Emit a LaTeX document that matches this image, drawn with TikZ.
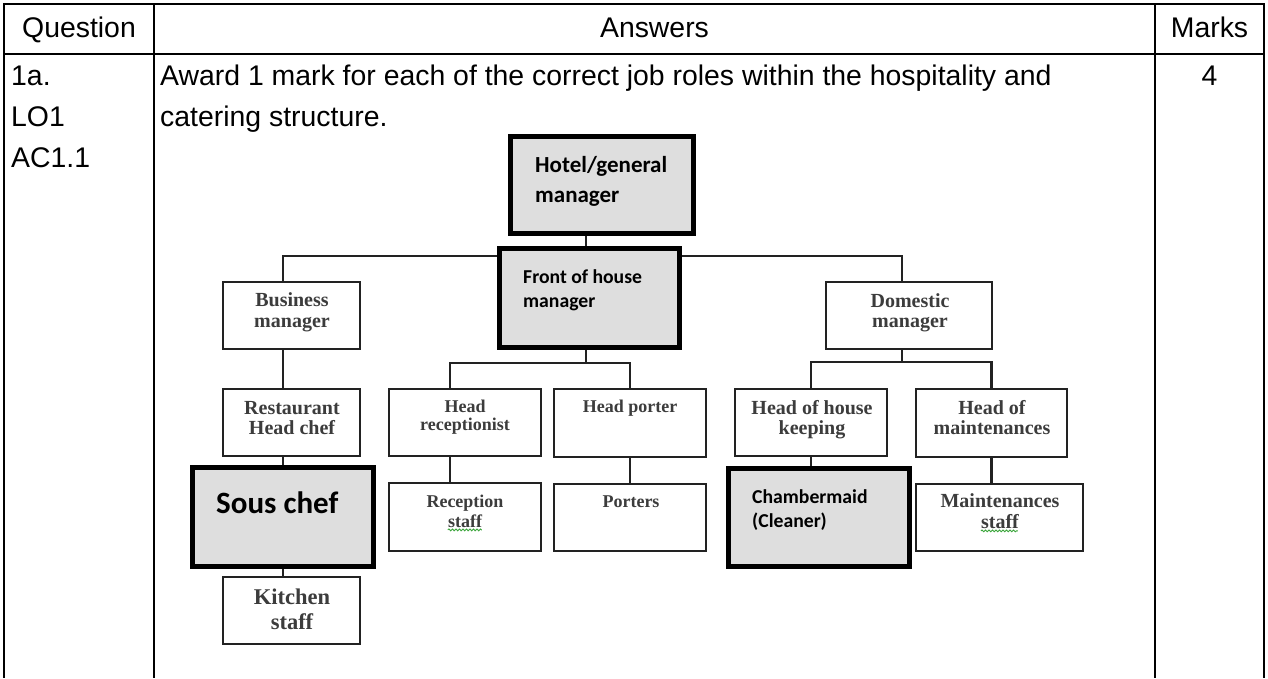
\documentclass[tikz,border=0pt]{standalone}
\usepackage{fontspec}
\setmainfont{Liberation Sans}
\newfontfamily\calfont{Carlito}
\newfontfamily\sfont{Liberation Serif}
\usetikzlibrary{decorations.pathmorphing}
\pgfdeclarelayer{bg}
\pgfsetlayers{bg,main}
\definecolor{boxgray}{HTML}{DEDEDE}
\definecolor{txtgray}{HTML}{3C3C3C}
\definecolor{linegray}{HTML}{222222}
\definecolor{squig}{HTML}{3BA53B}
\tikzset{
  rule/.style={line width=1.6pt, black},
  tbl/.style={font=\fontsize{28.4}{34}\selectfont, inner sep=0pt, anchor=base west},
  tblc/.style={font=\fontsize{28.4}{34}\selectfont, inner sep=0pt, anchor=base},
  plainbox/.style={draw=linegray, line width=2.8pt, fill=white, rectangle, inner sep=0pt},
  keybox/.style={draw=black, line width=5pt, fill=boxgray, rectangle, inner sep=0pt},
  conn/.style={draw=linegray, line width=2.8pt},
  ser/.style={font=\sfont\bfseries\fontsize{20}{24}\selectfont, text=txtgray, inner sep=0pt, anchor=base},
  sers/.style={font=\sfont\bfseries\fontsize{18}{22}\selectfont, text=txtgray, inner sep=0pt, anchor=base},
  serk/.style={font=\sfont\bfseries\fontsize{22.5}{27}\selectfont, text=txtgray, inner sep=0pt, anchor=base},
  cal/.style={font=\calfont\bfseries\fontsize{19.7}{24}\selectfont, inner sep=0pt, anchor=base west},
  squiggle/.style={draw=squig, line width=0.9pt, decorate, decoration={snake, amplitude=0.9pt, segment length=3.5pt}}
}
\begin{document}
\begin{tikzpicture}[x=1pt,y=-1pt]
\useasboundingbox (0,0) rectangle (1268,678);
% ---- table
\draw[rule] (3.2,4) -- (1264.8,4);
\draw[rule] (4,54) -- (1264,54);
\draw[rule] (4,4) -- (4,678);
\draw[rule] (154,4) -- (154,678);
\draw[rule] (1155,4) -- (1155,678);
\draw[rule] (1264,4) -- (1264,678);
\node[tblc] (hq) at (79,37) {Question};
\node[tblc] (ha) at (654.5,37) {Answers};
\node[tblc] (hm) at (1209.5,37) {Marks};
\node[tbl] (q1) at (11,85) {1a.};
\node[tbl] (q2) at (11,126) {LO1};
\node[tbl] (q3) at (11,167) {AC1.1};
\node[tbl] (a1) at (160,85) {Award 1 mark for each of the correct job roles within the hospitality and};
\node[tbl] (a2) at (160,126) {catering structure.};
\node[tblc] (m1) at (1209.5,85) {4};
% ---- chart boxes
\node[keybox, minimum width=183pt, minimum height=97pt] (hotel) at (601.5,184.5) {};
\node[keybox, minimum width=180pt, minimum height=99pt] (front) at (589,297.5) {};
\node[plainbox, minimum width=137pt, minimum height=67pt] (bus) at (291.5,315.5) {};
\node[plainbox, minimum width=166pt, minimum height=67pt] (dom) at (909,315.5) {};
\node[plainbox, minimum width=137pt, minimum height=67pt] (rest) at (291.5,422.5) {};
\node[plainbox, minimum width=152pt, minimum height=67pt] (hrec) at (465,422.5) {};
\node[plainbox, minimum width=152pt, minimum height=68pt] (hport) at (630,423) {};
\node[plainbox, minimum width=152pt, minimum height=67pt] (hhk) at (811,422.5) {};
\node[plainbox, minimum width=151pt, minimum height=68pt] (hmaint) at (991.5,423) {};
\node[keybox, minimum width=181pt, minimum height=99pt] (sous) at (282.5,516.5) {};
\node[plainbox, minimum width=152pt, minimum height=68pt] (recst) at (465,517) {};
\node[plainbox, minimum width=152pt, minimum height=67pt] (porters) at (630,517.5) {};
\node[keybox, minimum width=181pt, minimum height=98pt] (chamb) at (818.5,517) {};
\node[plainbox, minimum width=167pt, minimum height=67pt] (mstaff) at (999.5,517.5) {};
\node[plainbox, minimum width=137pt, minimum height=67pt] (kitchen) at (291.5,610.5) {};
% ---- connector helper coordinates
\coordinate (b1) at (586,256);
\coordinate (b2) at (586,363);
\coordinate (b3) at (902,362);
\coordinate (bx) at (283,0);
\coordinate (dx) at (902,0);
\coordinate (hrx) at (450,0);
\begin{pgfonlayer}{bg}
\draw[conn] (hotel.south -| b1) -- (b1);
\draw[conn] (bx |- bus.north) -- (bx |- b1) -- (dx |- b1) -- (dx |- dom.north);
\draw[conn] (bx |- bus.south) -- (bx |- rest.north);
\draw[conn] (bx |- rest.south) -- (bx |- sous.north);
\draw[conn] (bx |- sous.south) -- (bx |- kitchen.north);
\draw[conn] (front.south -| b2) -- (b2);
\draw[conn] (hrx |- hrec.north) -- (hrx |- b2) -- (hport.north |- b2) -- (hport.north);
\draw[conn] (hrx |- hrec.south) -- (hrx |- recst.north);
\draw[conn] (hport.south) -- (porters.north);
\draw[conn] (dom.south -| b3) -- (b3);
\draw[conn] (hhk.north) -- (hhk.north |- b3) -- (hmaint.north |- b3) -- (hmaint.north);
\draw[conn] (hhk.south) -- (hhk.south |- chamb.north);
\draw[conn] (hmaint.south) -- (hmaint.south |- mstaff.north);
\end{pgfonlayer}
% ---- texts
\node[font=\calfont\bfseries\fontsize{23}{28}\selectfont, inner sep=0pt, anchor=base west] (t1) at (535,172) {Hotel/general};
\node[font=\calfont\bfseries\fontsize{23}{28}\selectfont, inner sep=0pt, anchor=base west] (t2) at (535,202) {manager};
\node[cal] (t3) at (523,283) {Front of house};
\node[cal] (t4) at (523,307) {manager};
\node[font=\calfont\bfseries\fontsize{31}{36}\selectfont, inner sep=0pt, anchor=base west] (t5) at (216,513) {Sous chef};
\node[cal] (t6) at (752,503) {Chambermaid};
\node[cal] (t7) at (752,527) {(Cleaner)};
\node[ser] (t8) at (292,306) {Business};
\node[ser] (t9) at (292,327) {manager};
\node[ser] (t10) at (910,307) {Domestic};
\node[ser] (t11) at (910,327) {manager};
\node[ser] (t12) at (292,414) {Restaurant};
\node[ser] (t13) at (292,434) {Head chef};
\node[sers] (t14) at (465,412) {Head};
\node[sers] (t15) at (465,430) {receptionist};
\node[sers] (t16) at (630,412) {Head porter};
\node[ser] (t17) at (812,414) {Head of house};
\node[ser] (t18) at (812,434) {keeping};
\node[ser] (t19) at (992,414) {Head of};
\node[ser] (t20) at (992,434) {maintenances};
\node[sers] (t21) at (465,507) {Reception};
\node[sers] (t22) at (465,527) {staff};
\node[sers] (t23) at (631,507) {Porters};
\node[ser] (t24) at (1000,507) {Maintenances};
\node[ser] (t25) at (1000,528) {staff};
\node[serk] (t26) at (292,604) {Kitchen};
\node[serk] (t27) at (292,629) {staff};
\draw[squiggle] (t22.south west) ++(0,2.5) -- ++(34,0);
\draw[squiggle] (t25.south west) ++(0,2.5) -- ++(37,0);
\end{tikzpicture}
\end{document}
